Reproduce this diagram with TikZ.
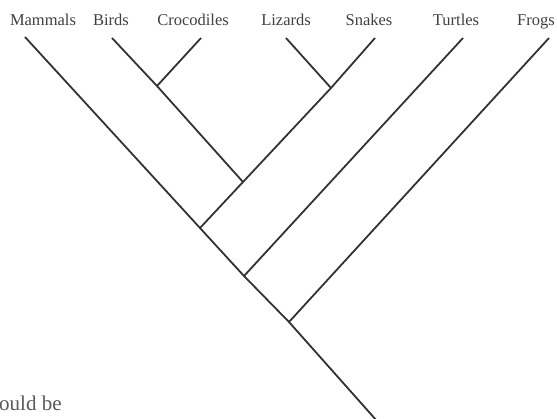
\documentclass[tikz,border=0pt]{standalone}
\usepackage{fontspec}
\setmainfont{Liberation Serif}
\begin{document}
\begin{tikzpicture}[x=1pt,y=-1pt,
  branch/.style={draw=black!80, line width=1.8pt},
  taxon/.style={anchor=base, text=black!75, font=\fontsize{16.5}{18}\selectfont, inner sep=0pt},
  frag/.style={anchor=base west, text=black!65, font=\fontsize{21}{23}\selectfont, inner sep=0pt}]
\useasboundingbox (0,0) rectangle (557,419);
\clip (0,0) rectangle (557,419);
% labels
\node[taxon] (lmam) at (43,26) {Mammals};
\node[taxon] (lbir) at (111,26) {Birds};
\node[taxon] (lcro) at (193,26) {Crocodiles};
\node[taxon] (lliz) at (286,26) {Lizards};
\node[taxon] (lsna) at (369,26) {Snakes};
\node[taxon] (ltur) at (456,26) {Turtles};
\node[taxon] (lfro) at (536,26) {Frogs};
\node[frag] (frag) at (-1,410) {ould be};
% tips
\coordinate (tmam) at (25,37);
\coordinate (tbir) at (112,38);
\coordinate (tcro) at (201,38);
\coordinate (tliz) at (286,38);
\coordinate (tsna) at (375,38);
\coordinate (ttur) at (463,38);
\coordinate (tfro) at (549,38);
% junctions
\coordinate (jA) at (157,86);
\coordinate (jB) at (331,88);
\coordinate (jC) at (243,182);
\coordinate (jD) at (200,228);
\coordinate (jE) at (244,276);
\coordinate (jF) at (289,322);
\coordinate (root) at (377,421);
% branches
\draw[branch] (tmam) -- (jD) -- (jE) -- (jF) -- (root);
\draw[branch] (tbir) -- (jA) -- (jC) -- (jD);
\draw[branch] (tcro) -- (jA);
\draw[branch] (tliz) -- (jB);
\draw[branch] (tsna) -- (jB) -- (jC);
\draw[branch] (ttur) -- (jE);
\draw[branch] (tfro) -- (jF);
\end{tikzpicture}
\end{document}
